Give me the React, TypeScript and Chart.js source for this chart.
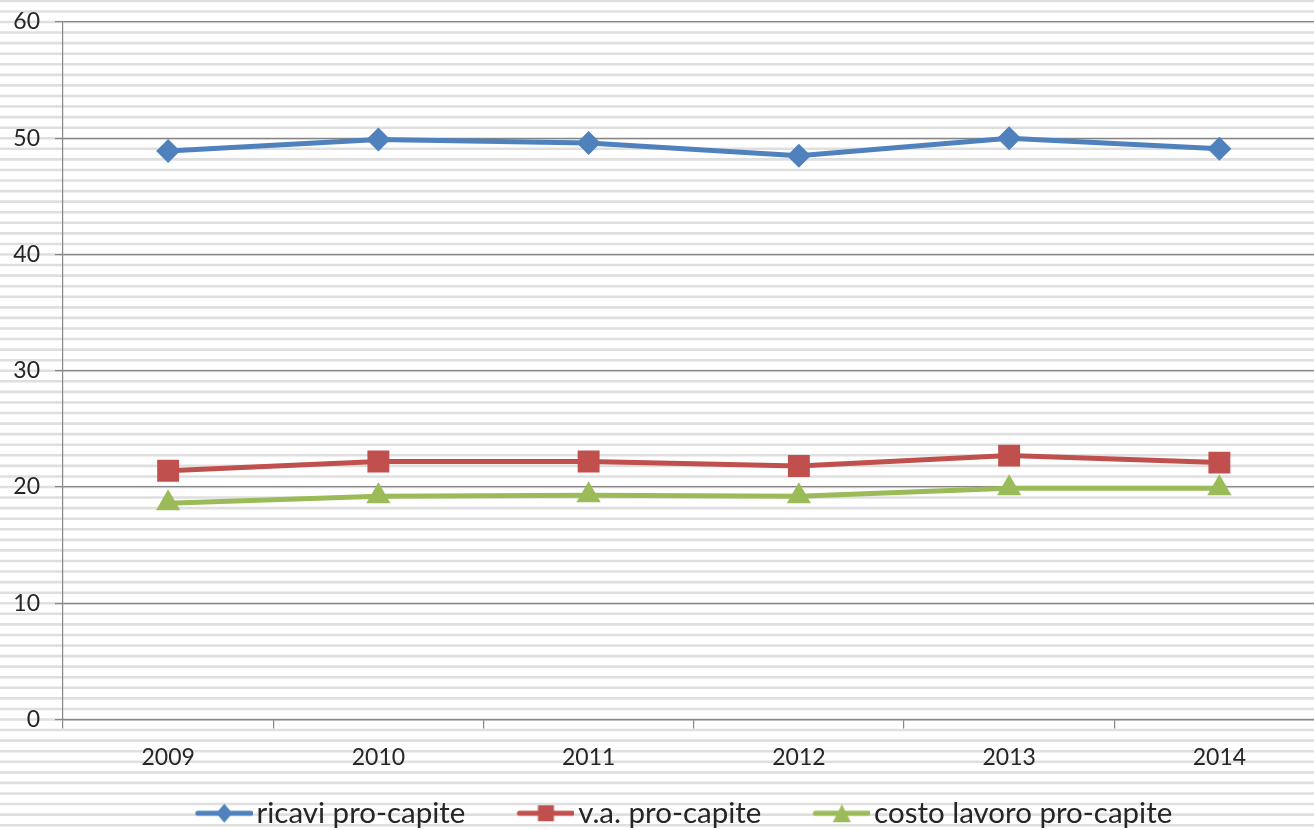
import React, { useEffect, useRef } from "react";
import { Chart, registerables } from "chart.js";

Chart.register(...registerables);

const years = ["2009", "2010", "2011", "2012", "2013", "2014"];
const ricavi = [48.9, 49.9, 49.6, 48.5, 50.0, 49.1];
const valoreAggiunto = [21.4, 22.2, 22.2, 21.8, 22.7, 22.1];
const costoLavoro = [18.6, 19.2, 19.3, 19.2, 19.9, 19.9];
const seriesLabels = ["ricavi pro-capite", "v.a. pro-capite", "costo lavoro pro-capite"];
const yTicks = [0, 10, 20, 30, 40, 50, 60];

const BLUE = "#4F81BD";
const RED = "#C0504D";
const GREEN = "#9BBB59";
const FONT = "Lato";
const TEXT = "#262626";

// legend icon: transparent on the left, line + marker on the right 56px
const ICON_W = 110;
const ICON_H = 30;
function makeIcon(color: string, style: string, r: number): HTMLCanvasElement {
  const c = document.createElement("canvas");
  c.width = ICON_W;
  c.height = ICON_H;
  const ctx = c.getContext("2d")!;
  ctx.strokeStyle = color;
  ctx.fillStyle = color;
  ctx.lineWidth = 5;
  ctx.lineCap = "round";
  const x0 = ICON_W - 55;
  const x1 = ICON_W - 2;
  const cy = ICON_H / 2;
  ctx.beginPath();
  ctx.moveTo(x0, cy);
  ctx.lineTo(x1, cy);
  ctx.stroke();
  const cx = (x0 + x1) / 2;
  ctx.beginPath();
  if (style === "diamond") {
    ctx.moveTo(cx, cy - r);
    ctx.lineTo(cx + r * 0.85, cy);
    ctx.lineTo(cx, cy + r);
    ctx.lineTo(cx - r * 0.85, cy);
  } else if (style === "square") {
    ctx.rect(cx - r, cy - r, 2 * r, 2 * r);
  } else {
    ctx.moveTo(cx, cy - r);
    ctx.lineTo(cx + r, cy + r);
    ctx.lineTo(cx - r, cy + r);
  }
  ctx.closePath();
  ctx.fill();
  return c;
}

const stripes = {
  id: "stripes",
  beforeDraw(chart: any) {
    const { ctx, width, height } = chart;
    const y = chart.scales.y;
    ctx.save();
    ctx.fillStyle = "#ffffff";
    ctx.fillRect(0, 0, width, height);
    const step = (y.getPixelForValue(0) - y.getPixelForValue(10)) / 11;
    const start = y.getPixelForValue(60);
    ctx.strokeStyle = "#dfdfdf";
    ctx.lineWidth = 2.6;
    let yy = start - Math.ceil(start / step) * step;
    for (; yy < height + step; yy += step) {
      ctx.beginPath();
      ctx.moveTo(0, yy);
      ctx.lineTo(width, yy);
      ctx.stroke();
    }
    ctx.restore();
  },
};

export default function App() {
  const ref = useRef<HTMLCanvasElement | null>(null);
  useEffect(() => {
    if (!ref.current) return;
    const icons = [
      makeIcon(BLUE, "diamond", 9.5),
      makeIcon(RED, "square", 8),
      makeIcon(GREEN, "triangle", 9),
    ];
    const chart = new Chart(ref.current, {
      type: "line",
      data: {
        labels: years,
        datasets: [
          {
            label: seriesLabels[0],
            data: ricavi,
            borderColor: BLUE,
            backgroundColor: BLUE,
            borderWidth: 5,
            pointStyle: "rectRot",
            pointRadius: 12,
            pointBorderWidth: 0,
            tension: 0,
          },
          {
            label: seriesLabels[1],
            data: valoreAggiunto,
            borderColor: RED,
            backgroundColor: RED,
            borderWidth: 5,
            pointStyle: "rect",
            pointRadius: 15.5,
            pointBorderWidth: 0,
            tension: 0,
          },
          {
            label: seriesLabels[2],
            data: costoLavoro,
            borderColor: GREEN,
            backgroundColor: GREEN,
            borderWidth: 5,
            pointStyle: "triangle",
            pointRadius: 14,
            pointBorderWidth: 0,
            tension: 0,
          },
        ],
      },
      options: {
        animation: false,
        responsive: true,
        maintainAspectRatio: false,
        layout: { padding: { top: 22, right: 14, left: 0, bottom: 0 } },
        plugins: {
          tooltip: { enabled: false },
          legend: {
            position: "bottom",
            labels: {
              usePointStyle: true,
              pointStyleWidth: 88,
              padding: 10,
              color: TEXT,
              font: { family: FONT, size: 29.5 },
              generateLabels: (ch: any) =>
                ch.data.datasets.map((ds: any, i: number) => ({
                  text: ds.label,
                  pointStyle: icons[i],
                  fillStyle: ds.borderColor,
                  strokeStyle: ds.borderColor,
                  lineWidth: 0,
                  hidden: false,
                  datasetIndex: i,
                  fontColor: TEXT,
                })),
            },
          },
        },
        scales: {
          x: {
            offset: true,
            grid: {
              display: true,
              drawOnChartArea: false,
              offset: true,
              color: "#878787",
              tickLength: 9,
              lineWidth: 1.2,
            },
            border: { color: "#878787", width: 1.2 },
            ticks: {
              color: TEXT,
              font: { family: FONT, size: 23 },
              padding: 15,
              maxRotation: 0,
            },
            afterFit: (s: any) => {
              s.height = 69;
            },
          },
          y: {
            min: 0,
            max: 60,
            afterBuildTicks: (s: any) => {
              s.ticks = yTicks.map((v) => ({ value: v }));
            },
            grid: {
              color: "#878787",
              tickLength: 8,
              lineWidth: 1.2,
            },
            border: { color: "#878787", width: 1.2 },
            ticks: {
              color: TEXT,
              font: { family: FONT, size: 23 },
              padding: 15,
            },
            afterFit: (s: any) => {
              s.width = 63;
              s.paddingTop = 0;
              s.paddingBottom = 0;
            },
          },
        },
      },
      plugins: [stripes],
    });
    return () => chart.destroy();
  }, []);

  return (
    <div style={{ position: "fixed", left: 0, top: 0, width: 1314, height: 830, overflow: "hidden", background: "#fff" }}>
      <div style={{ position: "relative", width: 1340, height: 838 }}>
        <canvas ref={ref} style={{ display: "block" }} />
      </div>
    </div>
  );
}
